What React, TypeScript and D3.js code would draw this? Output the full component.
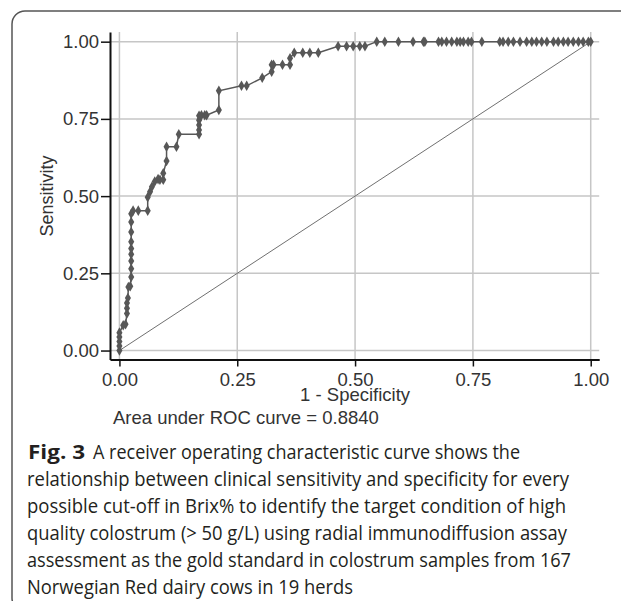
import React, { useEffect, useRef } from 'react';
import * as d3 from 'd3';

// ROC curve points (1 - specificity, sensitivity)
const fpr = [
  0, 0, 0, 0, 0, 0.008, 0.013, 0.016, 0.016, 0.016, 0.018, 0.019, 0.023,
  0.025, 0.025, 0.025, 0.025, 0.025, 0.025, 0.025, 0.025, 0.025, 0.029, 0.04,
  0.06, 0.06, 0.065, 0.069, 0.075, 0.082, 0.086, 0.093, 0.093, 0.1, 0.1, 0.121,
  0.126, 0.169, 0.169, 0.169, 0.169, 0.169, 0.174, 0.181, 0.185, 0.211, 0.211,
  0.259, 0.27, 0.303, 0.323, 0.323, 0.327, 0.346, 0.362, 0.362, 0.371, 0.389,
  0.404, 0.422, 0.464, 0.482, 0.496, 0.51, 0.521,
  0.546, 0.563, 0.592, 0.623, 0.645, 0.648, 0.677, 0.684, 0.694, 0.705, 0.716,
  0.723, 0.73, 0.74, 0.747, 0.769, 0.807, 0.814, 0.825, 0.836, 0.85, 0.864,
  0.875, 0.885, 0.896, 0.907, 0.921, 0.931, 0.942, 0.952, 0.963, 0.974, 0.984,
  0.995, 1.0,
];
const tpr = [
  0, 0.015, 0.029, 0.044, 0.058, 0.082, 0.085, 0.12, 0.137, 0.154, 0.17, 0.206,
  0.208, 0.238, 0.265, 0.29, 0.312, 0.33, 0.352, 0.384, 0.416, 0.443, 0.453,
  0.453, 0.453, 0.496, 0.514, 0.53, 0.547, 0.555, 0.553, 0.553, 0.574, 0.614,
  0.66, 0.66, 0.7, 0.7, 0.714, 0.73, 0.746, 0.76, 0.762, 0.762, 0.762, 0.779,
  0.841, 0.857, 0.857, 0.883, 0.903, 0.925, 0.925, 0.925, 0.925, 0.946, 0.964,
  0.964, 0.964, 0.964, 0.985, 0.985, 0.985, 0.985, 0.985,
  1, 1, 1, 1, 1, 1, 1, 1, 1, 1, 1, 1, 1, 1, 1, 1, 1, 1, 1, 1, 1, 1, 1, 1, 1, 1,
  1, 1, 1, 1, 1, 1, 1, 1, 1,
];

const xTicks = [0, 0.25, 0.5, 0.75, 1];
const yTicks = [0, 0.25, 0.5, 0.75, 1];
const xTitle = '1 - Specificity';
const yTitle = 'Sensitivity';
const aucNote = 'Area under ROC curve = 0.8840';

const captionBold = 'Fig. 3';
const captionLines = [
  'A receiver operating characteristic curve shows the',
  'relationship between clinical sensitivity and specificity for every',
  'possible cut-off in Brix% to identify the target condition of high',
  'quality colostrum (> 50 g/L) using radial immunodiffusion assay',
  'assessment as the gold standard in colostrum samples from 167',
  'Norwegian Red dairy cows in 19 herds',
];
// right end of each caption line, measured on the figure
const captionEnds = [520, 569, 566, 567, 571, 353];

const App = () => {
  const ref = useRef<SVGSVGElement>(null);

  useEffect(() => {
    const svg = d3.select(ref.current);
    svg.selectAll('*').remove();

    // figure frame (rounded box running off the right / bottom edges)
    svg.append('rect')
      .attr('x', 12)
      .attr('y', 11)
      .attr('width', 700)
      .attr('height', 600)
      .attr('rx', 13)
      .attr('fill', 'none')
      .attr('stroke', '#555')
      .attr('stroke-width', 1.5);

    const x = d3.scaleLinear().domain([-0.02, 1.018]).range([110, 599.2]);
    const y = d3.scaleLinear().domain([-0.029, 1.031]).range([359.5, 32.1]);

    const chartFont = '"Liberation Sans", Arial, sans-serif';
    const g = svg.append('g');

    // grid
    g.selectAll('.hgrid')
      .data(yTicks)
      .join('line')
      .attr('x1', x(-0.02))
      .attr('x2', x(1.018))
      .attr('y1', d => y(d))
      .attr('y2', d => y(d))
      .attr('stroke', '#c6c6c6')
      .attr('stroke-width', 1.5);

    g.selectAll('.vgrid')
      .data(xTicks)
      .join('line')
      .attr('x1', d => x(d))
      .attr('x2', d => x(d))
      .attr('y1', y(1.031))
      .attr('y2', y(-0.029))
      .attr('stroke', '#c6c6c6')
      .attr('stroke-width', 1.5);

    // reference diagonal
    g.append('line')
      .attr('x1', x(0))
      .attr('y1', y(0))
      .attr('x2', x(1))
      .attr('y2', y(1))
      .attr('stroke', '#707070')
      .attr('stroke-width', 1);

    // roc curve
    const pts = fpr.map((f, i) => [f, tpr[i]] as [number, number]);
    const line = d3.line<[number, number]>()
      .x(d => x(d[0]))
      .y(d => y(d[1]));

    g.append('path')
      .datum(pts)
      .attr('fill', 'none')
      .attr('stroke', '#575757')
      .attr('stroke-width', 1.5)
      .attr('d', line);

    const diamond = d3.symbol().type(d3.symbolDiamond).size(32);
    g.selectAll('.pt')
      .data(pts)
      .join('path')
      .attr('transform', d => `translate(${x(d[0])},${y(d[1])})`)
      .attr('d', diamond)
      .attr('fill', '#575757');

    // axes
    const yAxis = g.append('g')
      .attr('transform', `translate(${x(-0.02)},0)`)
      .call(d3.axisLeft(y)
        .tickValues(yTicks)
        .tickSize(9)
        .tickSizeOuter(0)
        .tickPadding(2)
        .tickFormat(d3.format('.2f')));

    const xAxis = g.append('g')
      .attr('transform', `translate(0,${y(-0.029)})`)
      .call(d3.axisBottom(x)
        .tickValues(xTicks)
        .tickSize(7)
        .tickSizeOuter(0)
        .tickPadding(6)
        .tickFormat(d3.format('.2f')));

    [yAxis, xAxis].forEach(ax => {
      ax.select('.domain').attr('stroke', '#111').attr('stroke-width', 2);
      ax.selectAll('.tick line').attr('stroke', '#111').attr('stroke-width', 1.5);
      ax.selectAll('.tick text')
        .attr('fill', '#333')
        .style('font-family', chartFont)
        .style('font-size', '18.5px');
    });

    // titles
    g.append('text')
      .attr('x', x(0.5))
      .attr('y', 401)
      .attr('text-anchor', 'middle')
      .attr('fill', '#333')
      .style('font-family', chartFont)
      .style('font-size', '18.5px')
      .text(xTitle);

    g.append('text')
      .attr('transform', `translate(53,${y(0.5)}) rotate(-90)`)
      .attr('text-anchor', 'middle')
      .attr('fill', '#333')
      .style('font-family', chartFont)
      .style('font-size', '18px')
      .text(yTitle);

    g.append('text')
      .attr('x', 113)
      .attr('y', 424)
      .attr('fill', '#333')
      .style('font-family', chartFont)
      .style('font-size', '18.5px')
      .text(aucNote);

    // caption
    const capFont = '"Open Sans", "Noto Sans", sans-serif';
    const cap = svg.append('g')
      .style('font-family', capFont)
      .style('font-size', '19.5px')
      .attr('fill', '#231f20');

    const lineGap = 27;
    const firstBase = 459;

    cap.append('text')
      .attr('x', 28)
      .attr('y', firstBase)
      .attr('font-weight', 700)
      .attr('textLength', 57)
      .attr('lengthAdjust', 'spacingAndGlyphs')
      .text(captionBold);

    captionLines.forEach((t, i) => {
      const x0 = i === 0 ? 93 : 27;
      cap.append('text')
        .attr('x', x0)
        .attr('y', firstBase + i * lineGap)
        .attr('textLength', captionEnds[i] - x0)
        .attr('lengthAdjust', 'spacingAndGlyphs')
        .text(t);
    });
  }, []);

  return (
    <svg
      ref={ref}
      width={621}
      height={601}
      style={{ position: 'absolute', left: 0, top: 0, background: '#fff' }}
    />
  );
};

export default App;
